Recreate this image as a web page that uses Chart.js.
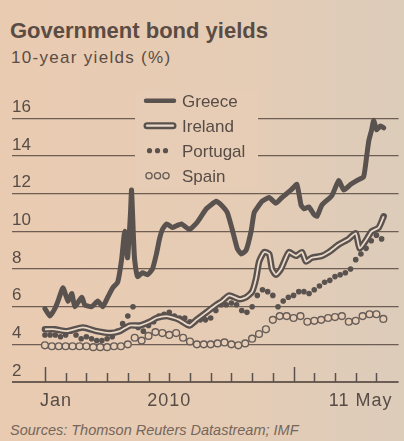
<!DOCTYPE html>
<html>
<head>
<meta charset="utf-8">
<script src="https://cdn.jsdelivr.net/npm/chart.js@4/dist/chart.umd.min.js"></script>
<style>
html, body { margin: 0; padding: 0; }
body {
  width: 404px; height: 441px; overflow: hidden; position: relative;
  background: linear-gradient(90deg, #e9cbb1 0%, #e6ccb5 55%, #dcccba 100%);
  font-family: 'Liberation Sans', Arial, sans-serif; color: #5a4c44;
}
#title { position: absolute; left: 10px; top: 20px; font-size: 22px; line-height: 22px; font-weight: bold; }
#sub { position: absolute; left: 11px; top: 49px; font-size: 17px; line-height: 17px; letter-spacing: 1.3px; }
#src { position: absolute; left: 10px; top: 423px; font-size: 14.5px; line-height: 15px; font-style: italic; color: #75665c; }
#wrap { position: absolute; left: 0; top: 80px; width: 404px; height: 330px; }
</style>
</head>
<body>
<div id="title">Government bond yields</div>
<div id="sub">10-year yields (%)</div>
<div id="wrap"><canvas id="yields"></canvas></div>
<div id="src">Sources: Thomson Reuters Datastream; IMF</div>
<script>
// x values are months since 1 Jan 2010 (last point = 11 May 2011)
const greeceX = [0,0.24,0.48,0.63,0.87,1.11,1.30,1.44,1.78,1.92,2.26,2.55,2.79,3.03,3.27,3.51,3.70,3.85,3.99,4.13,4.18,4.28,4.33,4.47,4.71,4.95,5.19,5.38,5.53,5.67,5.87,6.15,6.35,6.59,6.97,7.36,7.79,8.27,8.51,8.80,9.04,9.28,9.47,9.71,9.95,10.10,10.34,10.48,10.82,11.15,11.44,11.88,12.16,12.36,12.50,12.74,12.98,13.13,13.37,13.85,14.18,14.42,14.76,15.05,15.38,15.53,15.63,15.77,15.87,16.01,16.20,16.35];
const greece = [5.9,5.5,5.9,6.3,7.0,6.3,6.7,6.0,6.5,6.1,6.0,6.3,6.0,6.5,7.0,7.3,8.5,10.0,8.6,11.0,12.2,9.5,8.5,7.6,7.8,7.7,8.0,8.8,9.6,10.1,10.4,10.2,10.3,10.4,10.1,10.5,11.2,11.6,11.4,11.0,10.1,9.1,8.8,9.0,10.0,11.0,11.4,11.6,11.8,11.5,11.8,12.2,12.5,11.4,11.2,11.3,10.9,10.8,11.4,11.9,12.7,12.2,12.5,12.7,12.9,14.0,14.8,15.4,15.9,15.4,15.6,15.5];

const irelandX = [0,0.48,1.06,1.83,2.5,3.13,3.61,4.09,4.57,5.05,5.38,5.87,6.25,6.49,6.97,7.31,7.79,8.27,8.56,8.89,9.38,9.71,10.0,10.19,10.34,10.58,10.82,10.96,11.15,11.39,11.63,11.78,12.12,12.40,12.60,12.88,13.37,13.70,14.18,14.66,15.0,15.19,15.48,15.77,16.11,16.35];
const ireland = [4.8,4.8,4.7,4.9,4.7,4.6,4.7,5.0,5.0,5.2,5.4,5.5,5.4,5.3,5.0,5.3,5.7,6.1,6.3,6.6,6.4,6.5,6.8,7.5,8.4,8.9,8.8,8.0,7.7,8.0,8.6,8.9,8.7,8.9,8.4,8.6,8.7,8.9,9.3,9.6,9.9,9.1,9.5,10.0,10.2,10.8];

// weekly samples (every quarter month)
const portugalStep = 0.25;
const portugal = [4.5,4.5,4.5,4.4,4.5,4.7,4.5,4.3,4.4,4.3, 4.2,4.2,4.3,4.4,4.7,5.1,5.5,6.0,4.9,4.7, 5.0,5.2,5.5,5.6,5.7,5.5,5.4,5.4,5.2,5.2, 5.3,5.3,5.4,5.8,6.1,6.1,6.2,6.1,5.8,5.7, 6.0,6.6,6.9,6.8,6.6,6.0,6.3,6.5,6.6,6.8, 6.8,6.7,6.9,7.1,7.3,7.4,7.6,7.7,7.8,8.0, 8.5,8.8,9.1,9.5,9.8,9.6];

// samples every third of a month
const spainStep = 1 / 3;
const spain = [3.95,3.9,3.9,3.9,3.9,3.9,3.9,3.85,3.85,3.85, 3.9,3.9,4.0,4.35,4.2,4.45,4.65,4.6,4.5,4.6, 4.35,4.15,4.0,4.0,4.0,4.05,4.1,4.0,3.95,4.05, 4.3,4.55,4.8,5.3,5.5,5.5,5.4,5.5,5.2,5.25, 5.3,5.4,5.45,5.5,5.2,5.25,5.5,5.6,5.6,5.35];

const yTicks = [2, 4, 6, 8, 10, 12, 14, 16];
const monthTicks = [0,1,2,3,4,5,6,7,8,9,10,11,12,13,14,15,16];
const yearTicks = [0, 12];
const xLabels = ['Jan', '2010', '11 May'];
const xLabelAt = [0.53, 6.0, 15.24];
const legendNames = ['Greece', 'Ireland', 'Portugal', 'Spain'];

const ink = '#5a524e';
const paper = '#e7cdb6';
const font = "'Liberation Sans', Arial, sans-serif";
Chart.defaults.font.family = font;

const pairs = (xs, ys) => ys.map((v, i) => ({ x: xs[i], y: v }));
const stepped = (step, ys) => ys.map((v, i) => ({ x: i * step, y: v }));

// small upward ticks on the baseline + the three date labels
const xAxisDraw = {
  id: 'xAxisDraw',
  afterDraw(chart) {
    const { ctx, chartArea: a, scales: { x } } = chart;
    ctx.save();
    ctx.strokeStyle = ink;
    ctx.lineWidth = 1.5;
    monthTicks.forEach(m => {
      const px = Math.round(x.getPixelForValue(m)) + 0.5;
      const len = yearTicks.includes(m) ? 15 : 9;
      ctx.beginPath();
      ctx.moveTo(px, a.bottom);
      ctx.lineTo(px, a.bottom - len);
      ctx.stroke();
    });
    ctx.fillStyle = '#574c46';
    ctx.font = '18px ' + font;
    ctx.letterSpacing = '1px';
    ctx.textAlign = 'center';
    ctx.textBaseline = 'alphabetic';
    xLabels.forEach((t, i) => ctx.fillText(t, x.getPixelForValue(xLabelAt[i]), a.bottom + 24));
    ctx.restore();
  }
};

// legend sitting on a paper-coloured box that breaks the top gridlines
const legendBox = {
  id: 'legendBox',
  beforeDatasetsDraw(chart) {
    const { ctx, chartArea: a } = chart;
    const top = a.top;
    ctx.save();
    ctx.fillStyle = paper;
    ctx.fillRect(135, top, 123, 97);
    const rows = [10.5, 35.5, 60.5, 85.5].map(r => top + r);
    // Greece
    ctx.lineCap = 'round';
    ctx.strokeStyle = ink;
    ctx.lineWidth = 4.5;
    ctx.beginPath(); ctx.moveTo(146, rows[0]); ctx.lineTo(174, rows[0]); ctx.stroke();
    // Ireland
    ctx.lineWidth = 7;
    ctx.beginPath(); ctx.moveTo(147, rows[1]); ctx.lineTo(173, rows[1]); ctx.stroke();
    ctx.strokeStyle = '#ecd9c8';
    ctx.lineWidth = 2.2;
    ctx.beginPath(); ctx.moveTo(147, rows[1]); ctx.lineTo(173, rows[1]); ctx.stroke();
    // Portugal
    ctx.fillStyle = ink;
    [149.5, 157.5, 165.5].forEach(cx => { ctx.beginPath(); ctx.arc(cx, rows[2], 2.6, 0, Math.PI * 2); ctx.fill(); });
    // Spain
    ctx.strokeStyle = '#675d58';
    ctx.lineWidth = 1.3;
    [149, 157.5, 166].forEach(cx => { ctx.beginPath(); ctx.arc(cx, rows[3], 3.1, 0, Math.PI * 2); ctx.stroke(); });
    ctx.fillStyle = '#574c46';
    ctx.font = '17px ' + font;
    ctx.textAlign = 'left';
    ctx.textBaseline = 'alphabetic';
    legendNames.forEach((n, i) => ctx.fillText(n, 182, rows[i] + 6));
    ctx.restore();
  }
};

new Chart(document.getElementById('yields'), {
  type: 'line',
  data: {
    datasets: [
      { label: 'Greece', data: pairs(greeceX, greece), borderColor: ink, borderWidth: 5,
        pointRadius: 0, tension: 0.15, borderJoinStyle: 'round', borderCapStyle: 'round', order: 0 },
      { label: 'Ireland inner', data: pairs(irelandX, ireland), borderColor: '#ecd9c8', borderWidth: 1.8,
        pointRadius: 0, tension: 0.2, borderJoinStyle: 'round', order: 1 },
      { label: 'Ireland', data: pairs(irelandX, ireland), borderColor: ink, borderWidth: 6.5,
        pointRadius: 0, tension: 0.2, borderJoinStyle: 'round', borderCapStyle: 'round', order: 2 },
      { label: 'Portugal', data: stepped(portugalStep, portugal), showLine: false,
        pointRadius: 2.8, pointBorderWidth: 0, pointBackgroundColor: ink, order: 3 },
      { label: 'Spain', data: stepped(spainStep, spain), showLine: false,
        pointRadius: 3.4, pointBorderWidth: 1.4, pointBorderColor: '#675d58', pointBackgroundColor: paper, order: 4 }
    ]
  },
  options: {
    animation: false,
    responsive: true,
    maintainAspectRatio: false,
    events: [],
    layout: { padding: { left: 12, right: 4, top: 6, bottom: 28 } },
    plugins: { legend: { display: false }, tooltip: { enabled: false } },
    scales: {
      x: { type: 'linear', min: -1.59, max: 17.07, display: false },
      y: {
        min: 2, max: 17.5,
        afterBuildTicks: s => { s.ticks = yTicks.map(v => ({ value: v })); },
        border: { display: false },
        grid: { color: 'rgba(88,74,66,0.85)', lineWidth: c => c.tick.value === 2 ? 2 : 1.3, drawTicks: false },
        ticks: { mirror: true, padding: 0, labelOffset: -11, color: '#574c46', font: { size: 17 } }
      }
    }
  },
  plugins: [xAxisDraw, legendBox]
});
</script>
</body>
</html>
